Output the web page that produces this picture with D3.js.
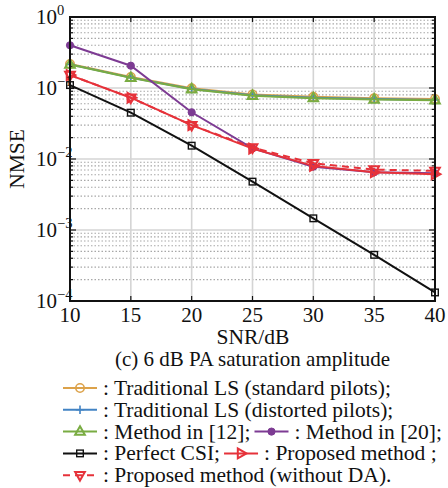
<!DOCTYPE html>
<html><head><meta charset="utf-8">
<script src="https://cdn.jsdelivr.net/npm/d3@7"></script>
<style>body{margin:0;background:#fff}svg{display:block}text{font-family:"Liberation Serif","Times New Roman",serif;fill:#111}</style>
</head><body>
<svg id="c" width="448" height="488"></svg>
<script>
const snr = [10, 15, 20, 25, 30, 35, 40];
const lsStandard = [0.218, 0.143, 0.099, 0.081, 0.075, 0.072, 0.070];
const lsDistorted = [0.215, 0.140, 0.097, 0.079, 0.073, 0.070, 0.068];
const method12 = [0.214, 0.139, 0.096, 0.078, 0.072, 0.069, 0.067];
const method20 = [0.40, 0.206, 0.0455, 0.0141, 0.0078, 0.0065, 0.0063];
const perfectCSI = [0.110, 0.0449, 0.0154, 0.0048, 0.00146, 0.000447, 0.000132];
const proposed = [0.152, 0.073, 0.030, 0.0140, 0.0080, 0.0065, 0.0061];
const proposedNoDA = [0.152, 0.073, 0.030, 0.0145, 0.0087, 0.0071, 0.0068];
const xTicks = [10, 15, 20, 25, 30, 35, 40];
const yExps = [0, -1, -2, -3, -4];
const legendLabels = [
  ": Traditional LS (standard pilots);",
  ": Traditional LS (distorted pilots);",
  ": Method in [12];",
  ": Method in [20];",
  ": Perfect CSI;",
  ": Proposed method ;",
  ": Proposed method (without DA)."
];

const series = [
  {v: lsStandard, c: "#DCA24A", m: "circle"},
  {v: lsDistorted, c: "#4283C4", m: "plus"},
  {v: method12, c: "#79AC42", m: "triUp"},
  {v: method20, c: "#7D3B93", m: "dot"},
  {v: perfectCSI, c: "#111111", m: "square"},
  {v: proposed, c: "#E6323A", m: "triRight"},
  {v: proposedNoDA, c: "#E6323A", m: "triDown", dash: "7,5"}
];

const svg = d3.select("#c");
const L = 70, R = 435, T = 17, B = 301;
const x = d3.scaleLinear().domain([10, 40]).range([L, R]);
const y = d3.scaleLog().domain([1e-4, 1]).range([B, T]);

// minor grid
const minor = [];
for (let e = -4; e < 0; e++) for (let k = 2; k <= 9; k++) minor.push(k * Math.pow(10, e));
svg.append("g").selectAll("line").data(minor).join("line")
  .attr("x1", L).attr("x2", R).attr("y1", d => y(d)).attr("y2", d => y(d))
  .attr("stroke", "#a8a8a8").attr("stroke-width", 1.1).attr("stroke-dasharray", "1.5,2");
// major grid
svg.append("g").selectAll("line").data(xTicks.slice(1, -1)).join("line")
  .attr("x1", d => x(d)).attr("x2", d => x(d)).attr("y1", T).attr("y2", B)
  .attr("stroke", "#d4d4d4").attr("stroke-width", 1.6);
svg.append("g").selectAll("line").data(yExps.slice(1, -1)).join("line")
  .attr("x1", L).attr("x2", R).attr("y1", d => y(Math.pow(10, d))).attr("y2", d => y(Math.pow(10, d)))
  .attr("stroke", "#d4d4d4").attr("stroke-width", 1.6);

// ticks (inward)
const tk = svg.append("g").attr("stroke", "#111").attr("stroke-width", 1.2);
xTicks.forEach(t => {
  tk.append("line").attr("x1", x(t)).attr("x2", x(t)).attr("y1", B).attr("y2", B - 5);
  tk.append("line").attr("x1", x(t)).attr("x2", x(t)).attr("y1", T).attr("y2", T + 5);
});
yExps.forEach(e => {
  const yy = y(Math.pow(10, e));
  tk.append("line").attr("x1", L).attr("x2", L + 6).attr("y1", yy).attr("y2", yy);
  tk.append("line").attr("x1", R).attr("x2", R - 6).attr("y1", yy).attr("y2", yy);
});
minor.forEach(d => {
  const yy = y(d);
  tk.append("line").attr("x1", L).attr("x2", L + 3).attr("y1", yy).attr("y2", yy);
  tk.append("line").attr("x1", R).attr("x2", R - 3).attr("y1", yy).attr("y2", yy);
});

// series
const line = d3.line().x((d, i) => x(snr[i])).y(d => y(d));
function marker(g, type, cx, cy, c) {
  const s = 4.2;
  if (type === "circle") g.append("circle").attr("cx", cx).attr("cy", cy).attr("r", s).attr("fill", "none").attr("stroke", c).attr("stroke-width", 1.6);
  else if (type === "dot") g.append("circle").attr("cx", cx).attr("cy", cy).attr("r", 3.6).attr("fill", c).attr("stroke", c).attr("stroke-width", 1);
  else if (type === "plus") g.append("path").attr("d", `M${cx-s},${cy}H${cx+s}M${cx},${cy-s}V${cy+s}`).attr("stroke", c).attr("stroke-width", 1.6).attr("fill", "none");
  else if (type === "square") g.append("rect").attr("x", cx - 3.3).attr("y", cy - 3.3).attr("width", 6.6).attr("height", 6.6).attr("fill", "none").attr("stroke", c).attr("stroke-width", 1.4);
  else {
    let p;
    const r = 5.4;
    if (type === "triUp") p = [[cx, cy - r], [cx + r * 0.9, cy + r * 0.6], [cx - r * 0.9, cy + r * 0.6]];
    if (type === "triDown") p = [[cx, cy + r], [cx + r * 0.9, cy - r * 0.6], [cx - r * 0.9, cy - r * 0.6]];
    if (type === "triRight") p = [[cx + r, cy], [cx - r * 0.6, cy - r * 0.9], [cx - r * 0.6, cy + r * 0.9]];
    g.append("path").attr("d", "M" + p.join("L") + "Z").attr("fill", "none").attr("stroke", c).attr("stroke-width", 2);
  }
}
series.forEach(s => {
  const g = svg.append("g");
  g.append("path").attr("d", line(s.v)).attr("fill", "none").attr("stroke", s.c)
    .attr("stroke-width", 2).attr("stroke-dasharray", s.dash || null);
  s.v.forEach((d, i) => marker(g, s.m, x(snr[i]), y(d), s.c));
});

// frame
svg.append("rect").attr("x", L).attr("y", T).attr("width", R - L).attr("height", B - T)
  .attr("fill", "none").attr("stroke", "#111").attr("stroke-width", 2);

// tick labels
svg.append("g").selectAll("text").data(xTicks).join("text")
  .attr("x", d => x(d)).attr("y", 322).attr("text-anchor", "middle").attr("font-size", 21).text(d => d);
yExps.forEach(e => {
  const t = svg.append("text").attr("x", 36).attr("y", y(Math.pow(10, e)) + 7).attr("font-size", 21);
  t.append("tspan").text("10");
  t.append("tspan").attr("dy", -9).attr("font-size", 14.5).text(e === 0 ? "0" : "\u2212" + (-e));
});

// axis titles
svg.append("text").attr("x", 253).attr("y", 344).attr("text-anchor", "middle").attr("font-size", 21.5).text("SNR/dB");
svg.append("text").attr("transform", `translate(24,${(T + B) / 2}) rotate(-90)`).attr("text-anchor", "middle").attr("font-size", 21.5).text("NMSE");
svg.append("text").attr("x", 252.5).attr("y", 366).attr("text-anchor", "middle").attr("font-size", 21).text("(c) 6 dB PA saturation amplitude");

// legend
const rows = [[0], [1], [2, 3], [4, 5], [6]];
const lx = 63, rowY0 = 388, rowH = 21.8;
rows.forEach((r, ri) => {
  const cy = rowY0 + ri * rowH;
  let cx = lx;
  r.forEach(si => {
    const s = series[si];
    const g = svg.append("g");
    g.append("line").attr("x1", cx).attr("x2", cx + 34).attr("y1", cy).attr("y2", cy)
      .attr("stroke", s.c).attr("stroke-width", 2).attr("stroke-dasharray", s.dash || null);
    marker(g, s.m, cx + 17, cy, s.c);
    const t = svg.append("text").attr("x", cx + 40).attr("y", cy + 7).attr("font-size", 21.5).text(legendLabels[si]);
    cx = cx + 40 + t.node().getComputedTextLength() + 4;
  });
});
</script>
</body></html>
